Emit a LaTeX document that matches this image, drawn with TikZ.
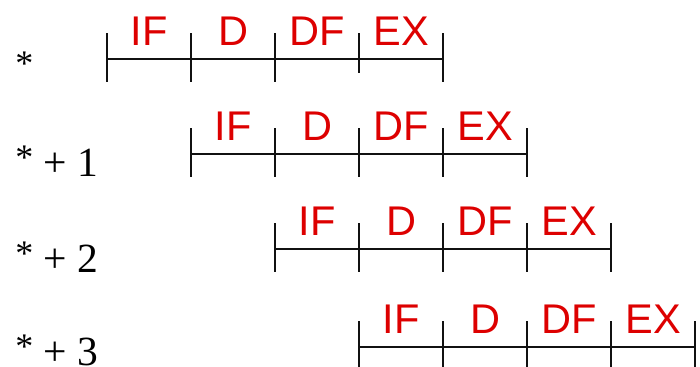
\documentclass[tikz,border=0pt]{standalone}
\usepackage{fontspec}
\setmainfont{Liberation Serif}
\setsansfont{Liberation Sans}
\usepackage{tikz}
\usetikzlibrary{positioning}
\usepackage{xcolor}
\definecolor{stageRed}{HTML}{DD0000}
\definecolor{tickBlack}{HTML}{111111}
\newcommand{\rowstar}{\raisebox{5pt}{\fontsize{26}{30}\selectfont *}}

\begin{document}
\begin{tikzpicture}[
  font=\sffamily,
  stagelabel/.style={font=\sffamily\fontsize{30}{36}\selectfont, text=stageRed, anchor=base, inner sep=0pt},
  rowlabel/.style={font=\rmfamily\fontsize{30}{36}\selectfont, anchor=base west, inner sep=0pt},
  pipeline/.style={line width=1.4pt, draw=tickBlack}
]

  % Frame
  \useasboundingbox (0, 0) rectangle (7.00in, -3.67in);

  % Rows: one instruction per row, shifted by one stage
  \foreach \r/\y/\ly/\lbl in {0/0.59/0.82/{\rowstar}, 1/1.54/1.76/{\rowstar{} + 1}, 2/2.49/2.72/{\rowstar{} + 2}, 3/3.47/3.65/{\rowstar{} + 3}} {

    % Row label
    \node[rowlabel] (row\r) at (0.15in, -\ly in) {\lbl};

    % Time line of the row
    \draw[pipeline] (1.07in + 0.84in*\r, -\y in) -- (1.07in + 0.84in*\r + 3.36in, -\y in);

    % Stage boundaries
    \foreach \k in {0,...,4} {
      \pgfmathsetmacro{\tickdn}{(\r==0 && \k==3) ? 0.14 : 0.23}
      \draw[pipeline] (1.07in + 0.84in*\r + 0.84in*\k, -\y in + 0.26in) -- (1.07in + 0.84in*\r + 0.84in*\k, -\y in - \tickdn in);
    }

    % Stage names
    \foreach \i/\st in {0/IF, 1/D, 2/DF, 3/EX} {
      \node[stagelabel] (st\r-\i) at (1.07in + 0.84in*\r + 0.84in*\i + 0.42in, -\y in + 0.14in) {\st};
    }
  }

\end{tikzpicture}
\end{document}
